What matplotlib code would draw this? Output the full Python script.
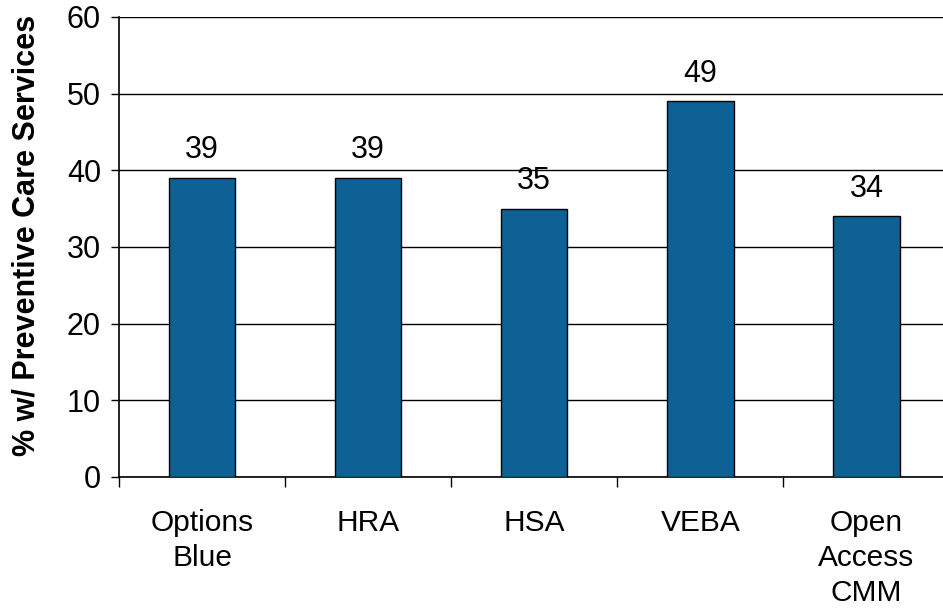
import matplotlib
matplotlib.use('Agg')
import matplotlib.pyplot as plt

plt.rcParams['font.family'] = ['Liberation Sans', 'DejaVu Sans']

categories = ['Options\nBlue', 'HRA', 'HSA', 'VEBA', 'Open\nAccess\nCMM']
values = [39, 39, 35, 49, 34]

fig = plt.figure(figsize=(9.43, 6.13), dpi=100)
ax = fig.add_axes([0.1262, 0.2219, 0.8807, 0.7504])

x = list(range(len(categories)))
ax.bar(x, values, width=0.4, color='#0d6194', edgecolor='black', linewidth=1, zorder=3)

for xi, v in zip(x, values):
    ax.annotate(str(v), (xi, v), xytext=(0, 9), textcoords='offset points',
                ha='center', va='bottom', fontsize=22)

ax.set_xlim(-0.5, len(categories) - 0.5)
ax.set_ylim(0, 60)
ax.set_yticks(range(0, 61, 10))
ax.yaxis.grid(True, color='black', linewidth=1)
ax.set_axisbelow(True)

ax.set_xticks(x)
ax.set_xticklabels(categories, fontsize=21.5, linespacing=1.33, va='top')
ax.set_xticks([i - 0.5 for i in range(len(categories))], minor=True)
ax.tick_params(axis='x', which='major', length=0, pad=23)
ax.tick_params(axis='x', which='minor', length=7, width=1, direction='out')
ax.tick_params(axis='y', labelsize=22, length=6, width=1, direction='out', pad=7)

ax.set_ylabel('% w/ Preventive Care Services', fontsize=22, fontweight='bold')
ax.yaxis.set_label_coords(-0.093, 0.526)

for s in ['top', 'right']:
    ax.spines[s].set_visible(False)
for s in ['left', 'bottom']:
    ax.spines[s].set_linewidth(1.2)

fig.savefig('out.png', dpi=100)
